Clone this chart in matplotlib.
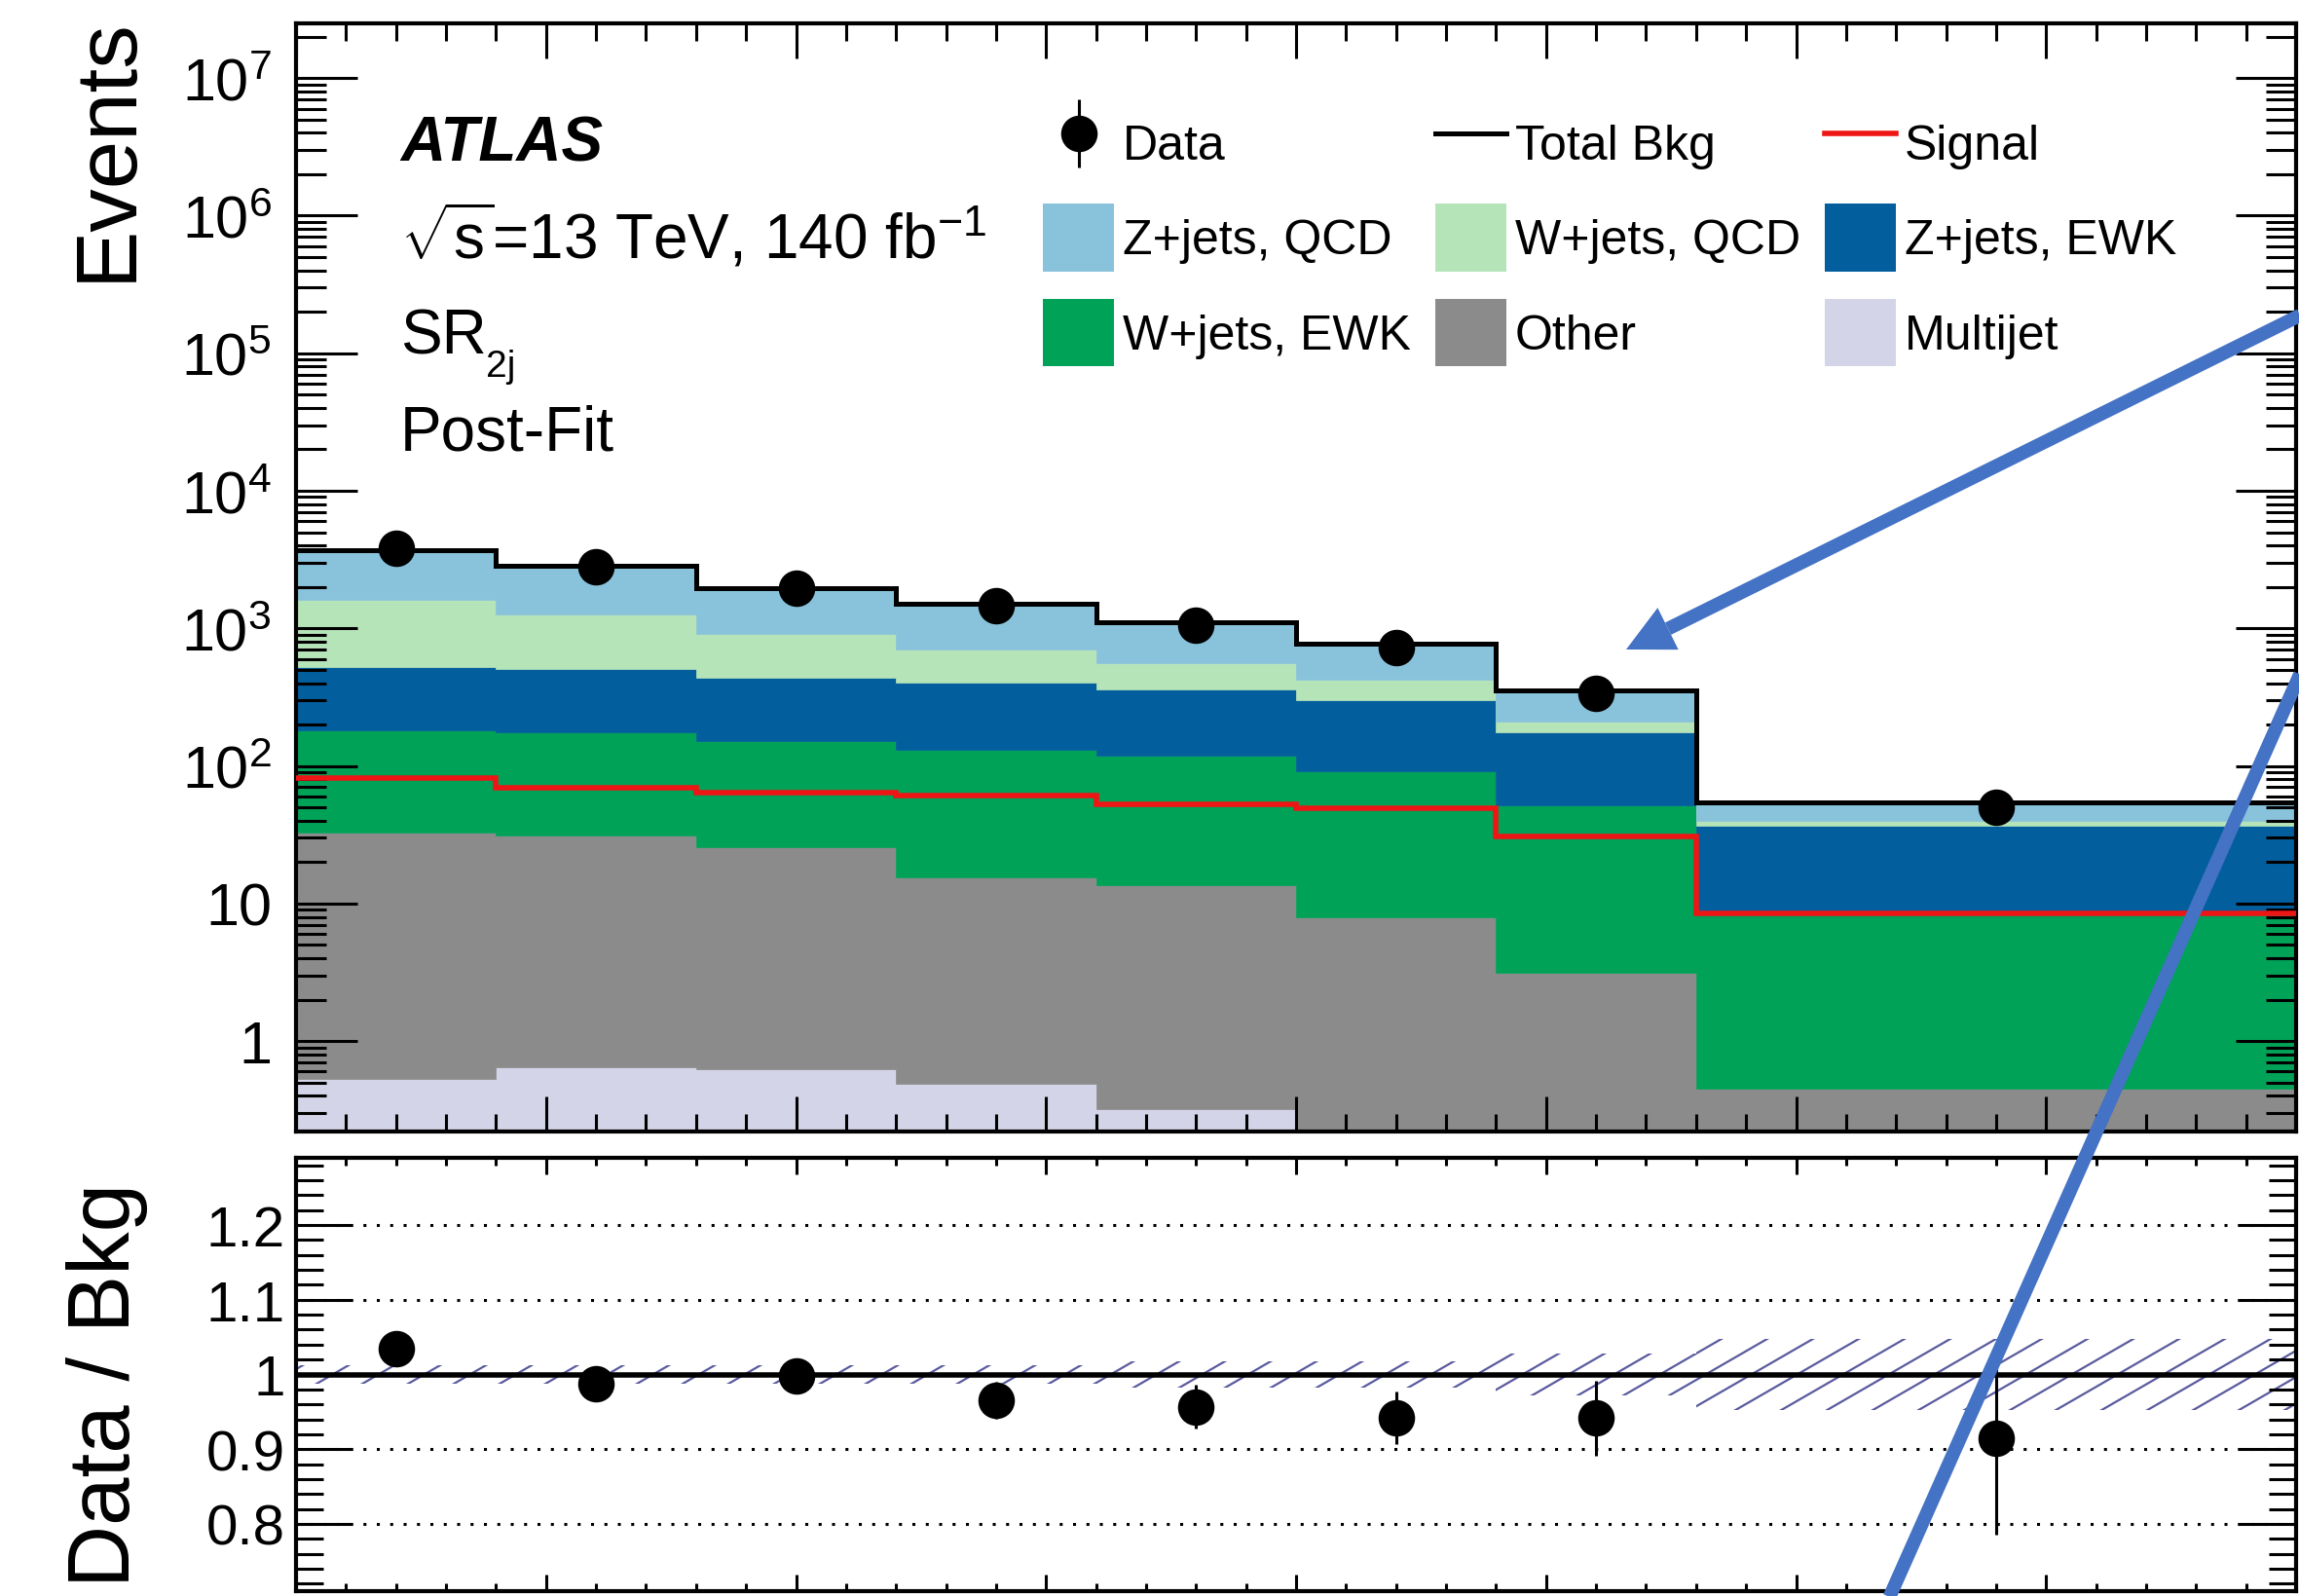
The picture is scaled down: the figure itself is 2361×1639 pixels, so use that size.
import numpy as np
import matplotlib
matplotlib.use('Agg')
import matplotlib.pyplot as plt
from matplotlib.ticker import MultipleLocator, LogLocator, FixedLocator, FuncFormatter, NullFormatter
from matplotlib.lines import Line2D
from matplotlib.patches import Patch, Polygon
from matplotlib.collections import LineCollection
from matplotlib.container import ErrorbarContainer
from matplotlib.legend_handler import HandlerErrorbar

plt.rcParams['font.family'] = ['Liberation Sans', 'DejaVu Sans']
plt.rcParams['mathtext.fontset'] = 'custom'
plt.rcParams['mathtext.rm'] = 'Liberation Sans'
plt.rcParams['mathtext.it'] = 'Liberation Sans:italic'
plt.rcParams['mathtext.bf'] = 'Liberation Sans:bold'

# binning (last bin is the wide overflow-like bin)
edges = np.array([0.0, 0.4, 0.8, 1.2, 1.6, 2.0, 2.4, 2.8, 4.0])
centers = 0.5 * (edges[:-1] + edges[1:])

# post-fit yields per bin, stacked from bottom to top
multijet = [0.53, 0.64, 0.62, 0.49, 0.32, 0.0, 0.0, 0.0]
other = [32.1, 30.7, 25.2, 15.0, 13.2, 7.96, 3.12, 0.45]
wjets_ewk = [149, 144, 127, 116, 106, 84, 48.7, 8.45]
zjets_ewk = [342, 328, 288, 270, 242, 208, 125, 27.8]
wjets_qcd = [1087, 757, 463, 304, 199, 121, 35, 3.0]
zjets_qcd = [2089, 1577, 1062, 811, 542, 355, 144, 15.0]
signal = [81.5, 69.4, 64.0, 61.1, 52.9, 49.5, 30.5, 8.44]

data = [3829, 2803, 1962, 1464, 1055, 731, 335, 50]
data_err = [62, 53, 44, 38, 32, 27, 18, 7]
bkg_rel_unc = [0.012, 0.012, 0.012, 0.012, 0.017, 0.017, 0.028, 0.047]

labels = ['Multijet', 'Other', 'W+jets, EWK', 'Z+jets, EWK', 'W+jets, QCD', 'Z+jets, QCD']
colors = ['#d4d4e8', '#8b8b8b', '#00a258', '#035e9e', '#b6e4b9', '#89c2db']
red = '#ee1515'
hatch_col = '#5a5a9e'
arrow_col = '#4472c4'

W, H = 2361, 1640
fig = plt.figure(figsize=(W / 100, H / 100), dpi=100)
ax = fig.add_axes([304 / W, 1 - 1163 / H, (2358 - 304) / W, (1163 - 25) / H])
rax = fig.add_axes([304 / W, 1 - 1635 / H, (2358 - 304) / W, (1635 - 1190) / H])

# ---- upper panel: stacked backgrounds ----
bottom = np.full(len(centers), 1e-3)
comps = [multijet, other, wjets_ewk, zjets_ewk, wjets_qcd, zjets_qcd]
for vals, col in zip(comps, colors):
    top = bottom + np.array(vals)
    ax.stairs(top, edges, baseline=bottom, fill=True, facecolor=col,
              edgecolor=col, linewidth=0.5, zorder=1)
    bottom = top
total = bottom

ax.stairs(signal, edges, baseline=None, color=red, linewidth=4, zorder=3)
ax.stairs(total, edges, baseline=None, color='black', linewidth=3.6, zorder=4)
h_data = ax.errorbar(centers, data, yerr=data_err, fmt='o', color='black',
                     ms=26, elinewidth=2.2, capsize=0, zorder=5)

ax.set_xlim(edges[0], edges[-1])
ax.set_yscale('log')
ax.set_ylim(0.22, 2.5e7)


def log_label(v, pos):
    n = int(round(np.log10(v)))
    if n == 0:
        return '1'
    if n == 1:
        return '10'
    return r'$10^{%d}$' % n


ax.xaxis.set_major_locator(MultipleLocator(0.5))
ax.xaxis.set_minor_locator(MultipleLocator(0.1))
ax.yaxis.set_major_locator(LogLocator(base=10, numticks=20))
ax.yaxis.set_minor_locator(LogLocator(base=10, subs=np.arange(2, 10), numticks=20))
ax.yaxis.set_major_formatter(FuncFormatter(log_label))
ax.yaxis.set_minor_formatter(NullFormatter())
ax.tick_params(which='both', direction='in', top=True, right=True, width=2.2,
               labelbottom=False)
ax.tick_params(axis='x', which='major', length=26)
ax.tick_params(axis='x', which='minor', length=13)
ax.tick_params(axis='y', which='major', length=45, labelsize=44, pad=18)
ax.tick_params(axis='y', which='minor', length=22)
for s in ax.spines.values():
    s.set_linewidth(3)

# ---- lower panel: data / background ----
total_arr = np.array(total)
ratio = np.array(data) / total_arr
ratio_err = np.array(data_err) / total_arr
unc = np.array(bkg_rel_unc)

band = rax.stairs(1 + unc, edges, baseline=1 - unc, fill=True,
                  facecolor='none', edgecolor='none')
# hatch the uncertainty band with thin 30 degree lines
aw, ah = 2054.0, 445.0
run = ah / np.tan(np.radians(30))
segs = [[(x0 / aw, 0), ((x0 + run) / aw, 1)] for x0 in np.arange(-run, aw + 47, 47)]
lc = LineCollection(segs, transform=rax.transAxes, colors=hatch_col,
                    linewidths=1.6, zorder=1.5)
lc.set_clip_path(band)
rax.add_collection(lc)

rax.axhline(1.0, color='black', linewidth=4, zorder=2)
grid_vals = [0.8, 0.9, 1.1, 1.2]
for g in grid_vals:
    rax.axhline(g, color='black', linewidth=2.2, linestyle=(0, (1, 3.5)), zorder=1)
rax.errorbar(centers, ratio, yerr=ratio_err, fmt='o', color='black', ms=26,
             elinewidth=2.2, capsize=0, zorder=5)

rax.set_xlim(edges[0], edges[-1])
rax.set_ylim(0.71, 1.29)
rax.xaxis.set_major_locator(MultipleLocator(0.5))
rax.xaxis.set_minor_locator(MultipleLocator(0.1))
rax.yaxis.set_major_locator(FixedLocator([0.8, 0.9, 1.0, 1.1, 1.2]))
rax.yaxis.set_minor_locator(MultipleLocator(0.02))
rax.yaxis.set_major_formatter(FuncFormatter(lambda v, p: '%g' % v))
rax.tick_params(which='both', direction='in', top=True, right=True, width=2.2,
                labelbottom=False)
rax.tick_params(axis='x', which='major', length=12)
rax.tick_params(axis='x', which='minor', length=6)
rax.tick_params(axis='y', which='major', length=42, labelsize=42, pad=8)
rax.tick_params(axis='y', which='minor', length=20)
for s in rax.spines.values():
    s.set_linewidth(3)

# ---- axis titles ----
fig.text(134 / W, 1 - 17 / H, 'Events', fontsize=64, rotation=90,
         rotation_mode='anchor', ha='right', va='baseline')
fig.text(133 / W, 1 - 1422 / H, 'Data / Bkg', fontsize=64, rotation=90,
         rotation_mode='anchor', ha='center', va='baseline')

# ---- labels ----
fig.text(411 / W, 1 - 166 / H, 'ATLAS', fontsize=46, fontweight='bold',
         fontstyle='italic')
fig.text(411 / W, 1 - 266 / H, r'$\sqrt{\mathregular{s}}$=13 TeV, 140 fb$^{-1}$',
         fontsize=46)
fig.text(411 / W, 1 - 364 / H, 'SR', fontsize=46)
fig.text(499 / W, 1 - 387 / H, '2j', fontsize=28)
fig.text(411 / W, 1 - 463 / H, 'Post-Fit', fontsize=46)

# ---- legend ----
patches = {lab: Patch(facecolor=c, edgecolor='none') for lab, c in zip(labels, colors)}
h_total = Line2D([], [], color='black', linewidth=3.6)
h_sig = Line2D([], [], color=red, linewidth=4)
handles = [h_data, patches['Z+jets, QCD'], patches['W+jets, EWK'],
           h_total, patches['W+jets, QCD'], patches['Other'],
           h_sig, patches['Z+jets, EWK'], patches['Multijet']]
texts = ['Data', 'Z+jets, QCD', 'W+jets, EWK',
         'Total Bkg', 'W+jets, QCD', 'Other',
         'Signal', 'Z+jets, EWK', 'Multijet']
ax.legend(handles, texts, ncol=3, loc='upper left',
          bbox_to_anchor=(1071 / W, 1 - 113 / H), bbox_transform=fig.transFigure,
          frameon=False, fontsize=36, handlelength=1.46, handleheight=1.76,
          handletextpad=0.18, labelspacing=0.56, columnspacing=0.5,
          borderpad=0, borderaxespad=0, numpoints=1,
          handler_map={ErrorbarContainer: HandlerErrorbar(yerr_size=0.7)})

# ---- blue call-out arrow and line ----
def to_fig(pts):
    pts = np.asarray(pts, dtype=float)
    return np.column_stack([pts[:, 0] / W, 1 - pts[:, 1] / H])


start = np.array([2400.0, 306.0])
tip = np.array([1670.0, 668.0])
u = (start - tip) / np.linalg.norm(start - tip)
perp = np.array([-u[1], u[0]])
head_len, head_half = 48.0, 24.0
base = tip + head_len * u
shaft = to_fig([start, base])
fig.add_artist(Line2D(shaft[:, 0], shaft[:, 1], transform=fig.transFigure,
                      color=arrow_col, linewidth=10, solid_capstyle='butt'))
head = to_fig([tip, base + head_half * perp, base - head_half * perp])
fig.add_artist(Polygon(head, closed=True, transform=fig.transFigure,
                       facecolor=arrow_col, edgecolor='none'))

line2 = to_fig([[2400.0, 608.0], [1920.0, 1687.0]])
fig.add_artist(Line2D(line2[:, 0], line2[:, 1], transform=fig.transFigure,
                      color=arrow_col, linewidth=10, solid_capstyle='butt'))

fig.savefig('out.png', dpi=100)
